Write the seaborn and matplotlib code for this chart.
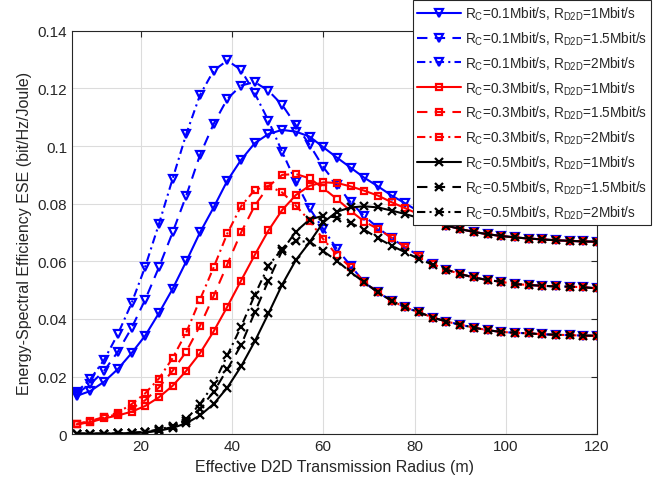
"""ESE versus effective D2D transmission radius for several rate pairs."""

import matplotlib

matplotlib.use("Agg")
import matplotlib.pyplot as plt
import numpy as np
import pandas as pd
import seaborn as sns

radius = np.arange(6, 121, 3)

# shared tails (curves with the same D2D rate merge at large radius)
tail_1 = [0.0742, 0.0724, 0.0712, 0.0702, 0.0694, 0.0688, 0.0683, 0.0679, 0.0676,
          0.0673, 0.0671, 0.0669, 0.0668]  # x = 84..120
tail_15 = [0.0571, 0.0556, 0.0544, 0.0535, 0.0529, 0.0521, 0.0518, 0.0515, 0.0513,
           0.0512, 0.0510, 0.0506]  # x = 87..120
tail_2 = [0.0492, 0.0463, 0.0440, 0.0423, 0.0405, 0.0391, 0.0380, 0.0370, 0.0361,
          0.0355, 0.0352, 0.0350, 0.0347, 0.0345, 0.0344, 0.0342, 0.0342]  # x = 72..120

ese_01_1 = [0.0133, 0.0150, 0.0182, 0.0226, 0.0281, 0.0342, 0.0420, 0.0504, 0.0600, 0.0700,
            0.0787, 0.0880, 0.0952, 0.1010, 0.1042, 0.1056, 0.1050, 0.1033, 0.0996, 0.0960,
            0.0925, 0.0890, 0.0860, 0.0828, 0.0801, 0.0772] + tail_1
ese_01_15 = [0.0141, 0.0174, 0.0220, 0.0286, 0.0368, 0.0467, 0.0579, 0.0700, 0.0828, 0.0969,
             0.1077, 0.1164, 0.1210, 0.1222, 0.1192, 0.1143, 0.1073, 0.1005, 0.0927, 0.0865,
             0.0805, 0.0757, 0.0716, 0.0680, 0.0648, 0.0619, 0.0590] + tail_15
ese_01_2 = [0.0147, 0.0191, 0.0258, 0.0347, 0.0454, 0.0581, 0.0729, 0.0886, 0.1042, 0.1177,
            0.1262, 0.1297, 0.1264, 0.1183, 0.1088, 0.0980, 0.0876, 0.0784, 0.0712, 0.0643,
            0.0585, 0.0527] + tail_2

ese_03_1 = [0.0034, 0.0042, 0.0055, 0.0065, 0.0078, 0.0098, 0.0128, 0.0168, 0.0220, 0.0281,
            0.0357, 0.0443, 0.0533, 0.0622, 0.0707, 0.0778, 0.0830, 0.0862, 0.0874, 0.0872,
            0.0860, 0.0845, 0.0828, 0.0805, 0.0784, 0.0763] + tail_1
ese_03_15 = [0.0035, 0.0044, 0.0058, 0.0070, 0.0089, 0.0118, 0.0162, 0.0220, 0.0287, 0.0376,
             0.0480, 0.0590, 0.0700, 0.0793, 0.0860, 0.0900, 0.0903, 0.0888, 0.0854, 0.0816,
             0.0775, 0.0738, 0.0712, 0.0682, 0.0650, 0.0620, 0.0590] + tail_15
ese_03_2 = [0.0036, 0.0046, 0.0060, 0.0075, 0.0104, 0.0142, 0.0193, 0.0264, 0.0353, 0.0467,
            0.0579, 0.0697, 0.0791, 0.0848, 0.0862, 0.0839, 0.0793, 0.0741, 0.0677, 0.0622,
            0.0579, 0.0529] + tail_2

ese_05_1 = [0.0002, 0.0002, 0.0002, 0.0003, 0.0004, 0.0006, 0.0012, 0.0022, 0.0038, 0.0065,
            0.0105, 0.0162, 0.0235, 0.0322, 0.0419, 0.0519, 0.0604, 0.0666, 0.0735, 0.0772,
            0.0787, 0.0791, 0.0787, 0.0776, 0.0764, 0.0750] + tail_1
ese_05_15 = [0.0002, 0.0002, 0.0002, 0.0003, 0.0005, 0.0007, 0.0014, 0.0025, 0.0045, 0.0089,
             0.0147, 0.0226, 0.0309, 0.0423, 0.0533, 0.0637, 0.0703, 0.0745, 0.0758, 0.0752,
             0.0733, 0.0710, 0.0680, 0.0654, 0.0631, 0.0608, 0.0588] + tail_15
ese_05_2 = [0.0002, 0.0002, 0.0002, 0.0003, 0.0005, 0.0008, 0.0017, 0.0027, 0.0052, 0.0104,
            0.0174, 0.0274, 0.0373, 0.0483, 0.0585, 0.0643, 0.0670, 0.0668, 0.0635, 0.0602,
            0.0562, 0.0527] + tail_2

series = [
    ("0.1", "1", ese_01_1), ("0.1", "1.5", ese_01_15), ("0.1", "2", ese_01_2),
    ("0.3", "1", ese_03_1), ("0.3", "1.5", ese_03_15), ("0.3", "2", ese_03_2),
    ("0.5", "1", ese_05_1), ("0.5", "1.5", ese_05_15), ("0.5", "2", ese_05_2),
]

rc_style = {"0.1": ("#0000FF", "v", 5.5), "0.3": ("#FF0000", "s", 4.2), "0.5": ("#000000", "x", 5.5)}
d2d_style = {"1": "-", "1.5": (0, (5, 3.5)), "2": (0, (4, 2, 1, 2))}

sns.set_style("whitegrid")
plt.rcParams["font.family"] = ["Liberation Sans", "DejaVu Sans"]
plt.rcParams["mathtext.fontset"] = "custom"
plt.rcParams["mathtext.rm"] = "Liberation Sans"

fig = plt.figure(figsize=(6.62, 4.89), dpi=100)
ax = fig.add_axes([0.109, 0.110, 0.793, 0.825])

for rc, d2d, vals in series:
    color, marker, ms = rc_style[rc]
    df = pd.DataFrame({"radius": radius, "ese": vals})
    sns.lineplot(
        data=df, x="radius", y="ese", ax=ax, color=color, linestyle=d2d_style[d2d],
        linewidth=1.5, marker=marker, markersize=ms, markerfacecolor="none",
        markeredgecolor=color, markeredgewidth=1.6,
        label=r"R$_\mathregular{C}$=" + rc + r"Mbit/s, R$_\mathregular{D2D}$=" + d2d + "Mbit/s",
    )

ax.set_xlim(5, 120)
ax.set_ylim(0, 0.14)
ax.set_xticks([20, 40, 60, 80, 100, 120])
ax.set_yticks(np.arange(0, 0.141, 0.02))
ax.set_yticklabels(["0", "0.02", "0.04", "0.06", "0.08", "0.1", "0.12", "0.14"])
ax.set_xlabel("Effective D2D Transmission Radius (m)", fontsize=11.5, color="#262626")
ax.set_ylabel("Energy-Spectral Efficiency ESE (bit/Hz/Joule)", fontsize=11.5, color="#262626")
ax.tick_params(axis="both", direction="in", labelsize=11, colors="#262626", length=4,
               top=True, right=True, labelcolor="#262626")
ax.grid(True, color="#DCDCDC", linewidth=0.8)
for spine in ax.spines.values():
    spine.set_color("#262626")
    spine.set_linewidth(0.8)

leg = ax.legend(loc="upper right", bbox_to_anchor=(0.986, 1.0), bbox_transform=fig.transFigure,
                fontsize=9.8, frameon=True, fancybox=False, framealpha=1, edgecolor="#262626",
                handlelength=3.2, handletextpad=0.3, labelspacing=0.55, borderpad=0.3,
                borderaxespad=0.1)
leg.get_frame().set_linewidth(0.8)

fig.savefig("out.png", dpi=100)
